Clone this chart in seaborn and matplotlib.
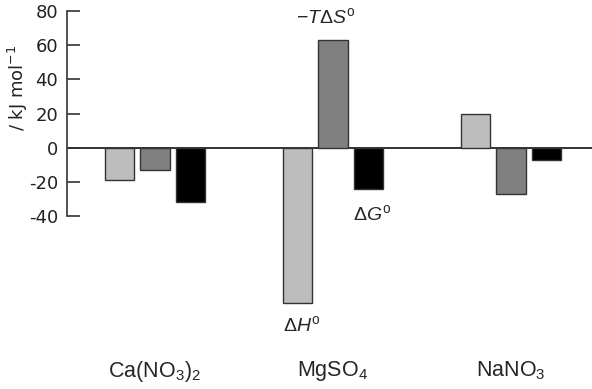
import matplotlib
matplotlib.use("Agg")
import matplotlib.pyplot as plt
import seaborn as sns
import pandas as pd

# ---- data ----
salt_keys = ["Ca", "Mg", "Na"]
salt_labels = ["Ca(NO$_3$)$_2$", "MgSO$_4$", "NaNO$_3$"]
terms = ["dH", "mTdS", "dG"]
dH = [-19, -91, 20]
mTdS = [-13, 63, -27]
dG = [-32, -24, -7]
yticks = [-40, -20, 0, 20, 40, 60, 80]
colors = ["#bdbdbd", "#808080", "#000000"]

sns.set_style("white")
plt.rcParams["font.family"] = ["DejaVu Sans"]
plt.rcParams["mathtext.fontset"] = "custom"
plt.rcParams["mathtext.rm"] = "Liberation Sans"
plt.rcParams["mathtext.it"] = "Liberation Sans:italic"
plt.rcParams["mathtext.sf"] = "Liberation Sans"
plt.rcParams["mathtext.default"] = "regular"

rows = []
for i, k in enumerate(salt_keys):
    for t, vals in zip(terms, [dH, mTdS, dG]):
        rows.append({"salt": k, "term": t, "value": vals[i]})
df = pd.DataFrame(rows)

fig = plt.figure(figsize=(5.92, 3.89), dpi=100)
W, H = 592, 389
left_px, right_px = 67, 592
top_px, bot_px = 11, 318.7
ax = fig.add_axes([left_px / W, 1 - bot_px / H, (right_px - left_px) / W, (bot_px - top_px) / H])

sns.barplot(data=df, x="salt", y="value", hue="term", order=salt_keys, hue_order=terms,
            palette=colors, width=0.6, gap=0.18, edgecolor="#333333", linewidth=1.0,
            errorbar=None, legend=False, ax=ax, zorder=2)

ax.set_xlim(-0.494, 2.455)
ax.set_ylim(-100, 80)
ax.axhline(0, color="#333333", lw=1.4, zorder=1)

for s in ["top", "right", "bottom"]:
    ax.spines[s].set_visible(False)
ax.spines["left"].set_bounds(-40, 80)
ax.spines["left"].set_color("#333333")
ax.spines["left"].set_linewidth(1.2)

ax.set_yticks(yticks)
ax.set_yticklabels([str(v) for v in yticks])
ax.tick_params(axis="y", direction="in", length=9, width=1.2, color="#333333",
               pad=6.5, labelsize=13, labelcolor="#222222", left=True)

ax.set_xticks([0, 1, 2])
ax.set_xticklabels(salt_labels, fontfamily="Liberation Sans", fontsize=15.5)
ax.tick_params(axis="x", length=0, pad=29)
ax.set_xlabel("")
ax.set_ylabel("")

fig.text(18 / W, 1 - 88 / H, "/ kJ mol$^{-1}$", rotation=90, ha="center", va="center",
         fontsize=13, color="#222222")

ann_kw = dict(ha="center", va="center", fontsize=14, fontfamily="Liberation Sans")
ax.text(0.96, 76.5, r"$-\mathit{T}\Delta \mathit{S}^{\rm o}$", **ann_kw)
ax.text(1.22, -38.5, r"$\Delta \mathit{G}^{\rm o}$", **ann_kw)
ax.text(0.826, -103.5, r"$\Delta \mathit{H}^{\rm o}$", **ann_kw)

fig.savefig("out.png", dpi=100)
